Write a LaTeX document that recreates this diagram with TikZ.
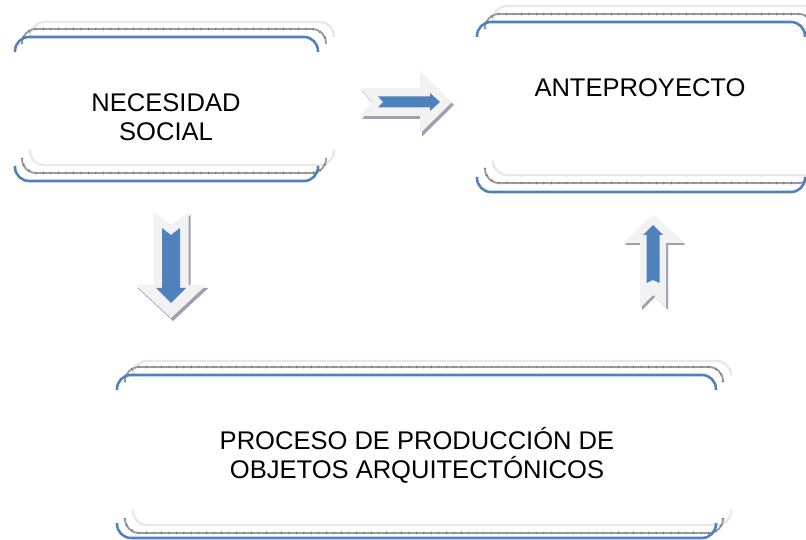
\documentclass[tikz,border=0pt]{standalone}
\usepackage{fontspec}
\setmainfont{Liberation Sans}
\definecolor{edgeblue}{RGB}{79,129,189}
\definecolor{edgegray}{RGB}{155,155,155}
\definecolor{edgetick}{RGB}{95,95,95}
\definecolor{edgelight}{RGB}{232,232,232}
\definecolor{arrowfill}{RGB}{242,242,242}
\definecolor{arrowshade}{RGB}{155,163,176}

% top and bottom edge of a box: x1, x2, ytop, ybot, style
\newcommand\boxedge[5]{%
  \draw[#5] (#1,#3+15) -- (#1,#3) -- (#2,#3) -- (#2,#3+15);
  \draw[#5] (#1,#4-15) -- (#1,#4) -- (#2,#4) -- (#2,#4-15);
}
% block arrow pointing along +x: length, shaft, head width, head length, notch
\newcommand\arrowpath[5]{%
  (0,-#2/2) -- (#1-#4,-#2/2) -- (#1-#4,-#3/2) -- (#1,0) -- (#1-#4,#3/2)
  -- (#1-#4,#2/2) -- (0,#2/2) -- (#5,0) -- cycle
}

\tikzset{
  lightedge/.style={edgelight, line width=2pt, rounded corners=12pt},
  grayedge/.style={edgegray, line width=1.6pt, rounded corners=12pt},
  tickedge/.style={edgetick, line width=2.4pt, dash pattern=on 0.4pt off 6pt, rounded corners=12pt},
  blueedge/.style={edgeblue, line width=2.2pt, rounded corners=12pt},
  boxtext/.style={font=\fontsize{21.8}{24.5}\selectfont, align=center, inner sep=0pt}
}

\begin{document}
\begin{tikzpicture}[x=0.03cm,y=-0.03cm]
\useasboundingbox (0,0) rectangle (806,540);

% necesidad social
\boxedge{30}{334}{22}{165}{lightedge}
\boxedge{22}{326}{29}{173}{grayedge}
\boxedge{22}{326}{29}{173}{tickedge}
\boxedge{15}{318}{37}{181}{blueedge}
\node[boxtext] (nec) at (166,117) {NECESIDAD\\SOCIAL};

% anteproyecto
\boxedge{493}{821}{6}{175}{lightedge}
\boxedge{485}{813}{14}{183}{grayedge}
\boxedge{485}{813}{14}{183}{tickedge}
\boxedge{477}{805}{22}{192}{blueedge}
\node[boxtext] (ante) at (640,88) {ANTEPROYECTO};

% proceso de produccion
\boxedge{133}{731}{361}{525}{lightedge}
\boxedge{125}{723}{367}{533}{grayedge}
\boxedge{125}{723}{367}{533}{tickedge}
\boxedge{117}{716}{375}{538}{blueedge}
\node[boxtext] (proc) at (417,455) {PROCESO DE PRODUCCIÓN DE\\OBJETOS ARQUITECTÓNICOS};

% arrow to the right
\fill[arrowshade, shift={(362,105)}] \arrowpath{92}{28}{63}{32}{12};
\begin{scope}[shift={(360,102)}]
  \fill[arrowfill] \arrowpath{92}{28}{63}{32}{12};
  \fill[edgeblue, shift={(18,0)}] \arrowpath{62}{11}{18}{10}{5};
\end{scope}

% arrow down
\fill[arrowshade, shift={(173,215)}, rotate=-90] \arrowpath{106}{35}{71}{33}{13};
\begin{scope}[shift={(171,212)}, rotate=-90]
  \fill[arrowfill] \arrowpath{106}{35}{71}{33}{13};
  \fill[edgeblue, shift={(16,0)}] \arrowpath{75}{18}{30}{15}{7};
\end{scope}

% arrow up
\fill[arrowshade, shift={(655,310)}, rotate=90] \arrowpath{93}{26}{61}{28}{13};
\begin{scope}[shift={(653,308)}, rotate=90]
  \fill[arrowfill] \arrowpath{93}{26}{61}{28}{13};
  \fill[edgeblue, shift={(25,0)}] \arrowpath{58}{13}{20}{10}{3};
\end{scope}
\end{tikzpicture}
\end{document}
